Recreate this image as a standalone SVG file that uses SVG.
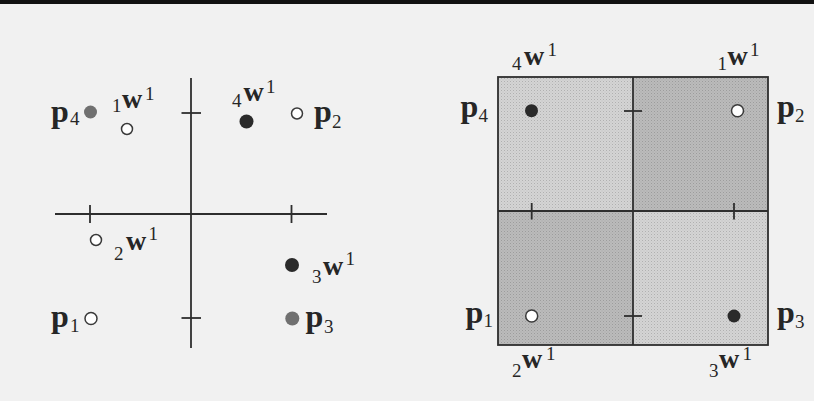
<svg xmlns="http://www.w3.org/2000/svg" width="814" height="401" viewBox="0 0 814 401">
  <defs>
    <pattern id="stipLight" width="3" height="3" patternUnits="userSpaceOnUse">
      <rect width="3" height="3" fill="#d4d4d4"/>
      <rect x="0" y="0" width="1" height="1" fill="#b0b0b0"/>
      <rect x="1.5" y="1.5" width="1" height="1" fill="#c0c0c0"/>
    </pattern>
    <pattern id="stipDark" width="3" height="3" patternUnits="userSpaceOnUse">
      <rect width="3" height="3" fill="#bbbbbb"/>
      <rect x="0" y="0" width="1" height="1" fill="#9c9c9c"/>
      <rect x="1.5" y="1.5" width="1" height="1" fill="#a8a8a8"/>
    </pattern>
    <style>
      .ax { stroke: #2e2e2e; stroke-width: 1.8; fill: none; }
      .open { fill: #ffffff; stroke: #3a3a3a; stroke-width: 1.5; }
      .dark { fill: #2a2a2a; }
      .gray { fill: #707070; }
      .b { font-family: "Liberation Serif", "Times New Roman", serif; font-weight: bold; fill: #262626; }
      .p { font-size: 32px; }
      .w { font-size: 28px; }
      .n { font-family: "Liberation Serif", "Times New Roman", serif; font-size: 19px; fill: #262626; }
    </style>
  </defs>

  <rect x="0" y="0" width="814" height="401" fill="#f1f1f1"/>
  <rect x="0" y="0" width="814" height="4" fill="#111111"/>

  <g id="connectors">
    <g id="left-axes">
      <line class="ax" x1="55" y1="214" x2="327" y2="214"/>
      <line class="ax" x1="191" y1="78" x2="191" y2="348"/>
      <line class="ax" x1="90" y1="205" x2="90" y2="223"/>
      <line class="ax" x1="291.5" y1="205" x2="291.5" y2="223"/>
      <line class="ax" x1="181.5" y1="113" x2="201" y2="113"/>
      <line class="ax" x1="181.5" y1="318" x2="201" y2="318"/>
    </g>
  </g>

  <!-- Left plot points -->
  <g id="L-p4">
    <circle class="gray" cx="90.5" cy="112" r="6.5"/>
    <text class="b p" x="51" y="122">p</text><text class="n" x="70" y="125">4</text>
  </g>
  <g id="L-1w1">
    <circle class="open" cx="127" cy="129" r="5.5"/>
    <text class="n" x="112" y="112">1</text><text class="b w" x="122" y="108">w</text><text class="n" x="145" y="100">1</text>
  </g>
  <g id="L-4w1">
    <circle class="dark" cx="246.5" cy="121.5" r="7"/>
    <text class="n" x="232" y="107">4</text><text class="b w" x="243.5" y="101">w</text><text class="n" x="266" y="93">1</text>
  </g>
  <g id="L-p2">
    <circle class="open" cx="297" cy="113.5" r="5.5"/>
    <text class="b p" x="314" y="122">p</text><text class="n" x="332" y="128">2</text>
  </g>
  <g id="L-2w1">
    <circle class="open" cx="96" cy="240" r="5.5"/>
    <text class="n" x="114" y="260">2</text><text class="b w" x="126" y="250">w</text><text class="n" x="148.5" y="240">1</text>
  </g>
  <g id="L-3w1">
    <circle class="dark" cx="292" cy="265" r="7"/>
    <text class="n" x="312" y="283">3</text><text class="b w" x="323" y="275">w</text><text class="n" x="345.5" y="265">1</text>
  </g>
  <g id="L-p1">
    <circle class="open" cx="91" cy="318.5" r="6"/>
    <text class="b p" x="51" y="326.5">p</text><text class="n" x="70" y="332">1</text>
  </g>
  <g id="L-p3">
    <circle class="gray" cx="292.3" cy="318.5" r="7"/>
    <text class="b p" x="305.5" y="326.5">p</text><text class="n" x="324" y="333">3</text>
  </g>

  <!-- Right plot: quadrants -->
  <g id="R-quadrants">
    <rect x="498" y="77" width="135" height="134" fill="url(#stipLight)"/>
    <rect x="633" y="77" width="135" height="134" fill="url(#stipDark)"/>
    <rect x="498" y="211" width="135" height="134" fill="url(#stipDark)"/>
    <rect x="633" y="211" width="135" height="134" fill="url(#stipLight)"/>
    <rect class="ax" x="498" y="77" width="270" height="268"/>
    <line class="ax" x1="633" y1="77" x2="633" y2="345"/>
    <line class="ax" x1="498" y1="211" x2="768" y2="211"/>
    <line class="ax" x1="624" y1="111" x2="642" y2="111"/>
    <line class="ax" x1="624" y1="316" x2="642" y2="316"/>
    <line class="ax" x1="531.7" y1="203" x2="531.7" y2="219.5"/>
    <line class="ax" x1="734" y1="203" x2="734" y2="219.5"/>
  </g>

  <g id="R-p4">
    <circle class="dark" cx="531.5" cy="110.7" r="6.5"/>
    <text class="b p" x="460.5" y="116.7">p</text><text class="n" x="478.5" y="122">4</text>
  </g>
  <g id="R-p2">
    <circle class="open" cx="737.5" cy="110.7" r="6"/>
    <text class="b p" x="777" y="116.7">p</text><text class="n" x="795" y="122">2</text>
  </g>
  <g id="R-p1">
    <circle class="open" cx="531.7" cy="316" r="6"/>
    <text class="b p" x="465.5" y="323">p</text><text class="n" x="483.5" y="327">1</text>
  </g>
  <g id="R-p3">
    <circle class="dark" cx="734" cy="316" r="6.5"/>
    <text class="b p" x="777" y="323">p</text><text class="n" x="795" y="327.5">3</text>
  </g>
  <g id="R-4w1">
    <text class="n" x="512" y="69.5">4</text><text class="b w" x="524" y="65">w</text><text class="n" x="547.5" y="56">1</text>
  </g>
  <g id="R-1w1">
    <text class="n" x="717.5" y="69.5">1</text><text class="b w" x="727.5" y="65">w</text><text class="n" x="750" y="56">1</text>
  </g>
  <g id="R-2w1">
    <text class="n" x="512" y="376.5">2</text><text class="b w" x="522" y="368">w</text><text class="n" x="546" y="360">1</text>
  </g>
  <g id="R-3w1">
    <text class="n" x="709" y="376.5">3</text><text class="b w" x="719" y="368">w</text><text class="n" x="742.5" y="360">1</text>
  </g>
</svg>
